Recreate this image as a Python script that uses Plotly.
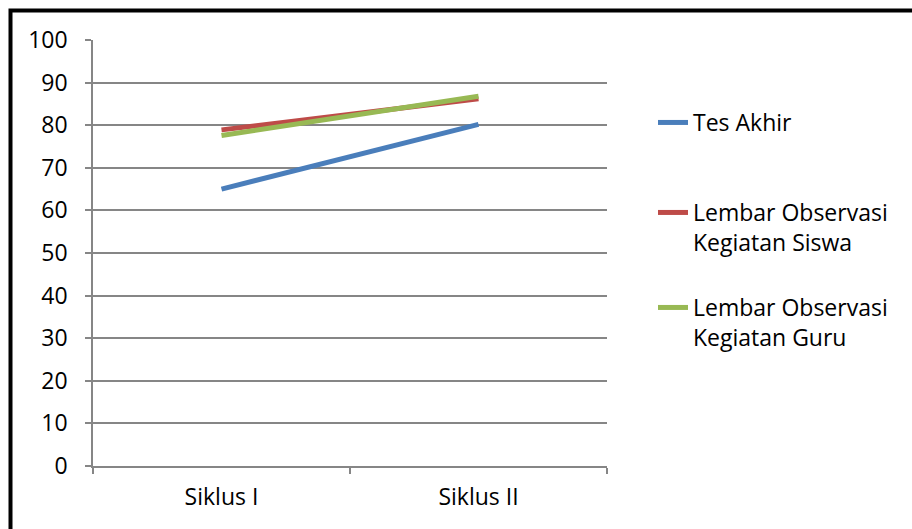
import plotly.graph_objects as go

categories = ["Siklus I", "Siklus II"]
tes_akhir = [65.0, 80.2]
obs_siswa = [78.9, 86.2]
obs_guru = [77.6, 86.8]

series = [
    ("Tes Akhir", tes_akhir, "#4A7EBB", "legend"),
    ("Lembar Observasi<br>Kegiatan Siswa", obs_siswa, "#BE4B48", "legend2"),
    ("Lembar Observasi<br>Kegiatan Guru", obs_guru, "#98B954", "legend3"),
]

FONT = "Open Sans, sans-serif"
FS = 23

fig = go.Figure()
for name, vals, color, lg in series:
    fig.add_trace(go.Scatter(
        x=categories, y=vals, mode="lines", name=name,
        line=dict(color=color, width=5), legend=lg,
    ))

W, H = 912, 529
ml, mr, mt, mb = 93, 305, 40, 63
pw, ph = W - ml - mr, H - mt - mb

def px2x(px):
    return (px - ml) / pw

def py2y(py):
    return (H - mb - py) / ph

leg_common = dict(font=dict(family=FONT, size=FS, color="#000000"),
                  bgcolor="rgba(0,0,0,0)", xanchor="left", yanchor="top",
                  valign="top", itemwidth=30, tracegroupgap=0)

lx = 653
fig.update_layout(
    width=W, height=H,
    margin=dict(l=ml, r=mr, t=mt, b=mb),
    paper_bgcolor="white", plot_bgcolor="white",
    font=dict(family=FONT, size=FS, color="#000000"),
    showlegend=True,
    legend=dict(x=px2x(lx), y=py2y(101), **leg_common),
    legend2=dict(x=px2x(lx), y=py2y(191), **leg_common),
    legend3=dict(x=px2x(lx), y=py2y(286), **leg_common),
    xaxis=dict(
        type="category", tickson="boundaries", range=[-0.5, 1.5],
        showgrid=False, showline=True, linecolor="#868686", linewidth=1.5,
        ticks="outside", ticklen=6, tickcolor="#868686", tickwidth=1.5,
        tickfont=dict(family=FONT, size=FS), ticklabelstandoff=10,
        zeroline=False,
    ),
    yaxis=dict(
        range=[0, 100], tickvals=list(range(0, 101, 10)),
        showgrid=True, gridcolor="#868686", gridwidth=1.5,
        showline=True, linecolor="#868686", linewidth=1.5,
        ticks="outside", ticklen=6, tickcolor="#868686", tickwidth=1.5,
        tickfont=dict(family=FONT, size=FS), ticklabelstandoff=13,
        zeroline=False,
    ),
)

fig.add_shape(type="rect", xref="paper", yref="paper",
              x0=px2x(10.5), x1=px2x(1200), y0=py2y(900), y1=py2y(10.5),
              line=dict(color="black", width=4), fillcolor="rgba(0,0,0,0)",
              layer="above")

fig.write_html("out.html")
